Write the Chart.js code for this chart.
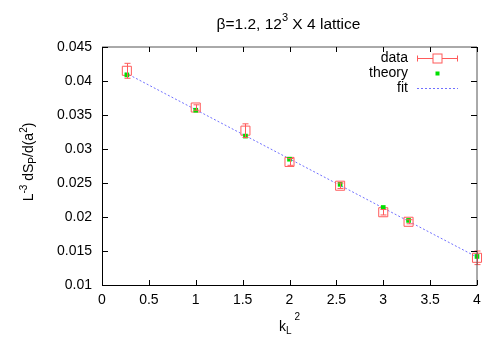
<!DOCTYPE html>
<html>
<head>
<meta charset="utf-8">
<script src="https://cdn.jsdelivr.net/npm/chart.js@4.4.0/dist/chart.umd.min.js"></script>
<style>
  html, body { margin: 0; padding: 0; background: #fff; }
  canvas { display: block; }
</style>
</head>
<body>
<canvas id="c" width="500" height="350"></canvas>
<script>
// ---- data ----
const kL2        = [0.265, 1.0, 1.53, 2.0, 2.54, 3.0, 3.27, 4.0];
const dataVals   = [0.0415, 0.0361, 0.0327, 0.0281, 0.0246, 0.0207, 0.0193, 0.0140];
const dataErr    = [0.0011, 0.0004, 0.0010, 0.0005, 0.0004, 0.0004, 0.0003, 0.0010];
const theoryVals = [0.0409, 0.0357, 0.0319, 0.0285, 0.0248, 0.0214, 0.0195, 0.0142];
const fitX       = [0.25, 4.0];
const fitY       = [0.0412, 0.0141];
const xTicks     = [0, 0.5, 1, 1.5, 2, 2.5, 3, 3.5, 4];
const xTickLabels= ["0", "0.5", "1", "1.5", "2", "2.5", "3", "3.5", "4"];
const yTicks     = [0.01, 0.015, 0.02, 0.025, 0.03, 0.035, 0.04, 0.045];
const yTickLabels= ["0.01", "0.015", "0.02", "0.025", "0.03", "0.035", "0.04", "0.045"];

const FONT = '"Liberation Sans", Arial, Helvetica, sans-serif';
const RED = '#ff5a5a';
const GREEN = '#00e000';
const BLUE = '#7070ff';

const toPts = (xs, ys) => xs.map((x, i) => ({x: x, y: ys[i]}));

const gnuplotDecor = {
  id: 'gnuplotDecor',
  afterDatasetsDraw(chart) {
    const ctx = chart.ctx;
    const xs = chart.scales.x, ys = chart.scales.y;
    ctx.save();
    // error bars
    ctx.strokeStyle = RED;
    ctx.lineWidth = 1;
    dataVals.forEach((v, i) => {
      const px = Math.round(xs.getPixelForValue(kL2[i])) + 0.5;
      const top = ys.getPixelForValue(v + dataErr[i]);
      const bot = ys.getPixelForValue(v - dataErr[i]);
      ctx.beginPath();
      ctx.moveTo(px, top); ctx.lineTo(px, bot);
      ctx.moveTo(px - 3, top); ctx.lineTo(px + 3, top);
      ctx.moveTo(px - 3, bot); ctx.lineTo(px + 3, bot);
      ctx.stroke();
    });
    ctx.restore();
  },
  afterDraw(chart) {
    const ctx = chart.ctx;
    const xs = chart.scales.x, ys = chart.scales.y;
    const a = chart.chartArea;
    const L = Math.round(a.left), R = Math.round(a.right), T = Math.round(a.top), B = Math.round(a.bottom);
    ctx.save();
    // border
    ctx.lineWidth = 1;
    ctx.strokeStyle = '#000';
    ctx.beginPath();
    ctx.moveTo(L + 0.5, T); ctx.lineTo(L + 0.5, B + 0.5); ctx.lineTo(R, B + 0.5);
    ctx.stroke();
    ctx.strokeStyle = '#555';
    ctx.beginPath();
    ctx.moveTo(L, T); ctx.lineTo(R, T); ctx.lineTo(R, B + 1);
    ctx.stroke();
    // inward ticks
    ctx.strokeStyle = '#000';
    ctx.beginPath();
    xTicks.forEach(v => {
      const p = Math.round(xs.getPixelForValue(v)) + 0.5;
      ctx.moveTo(p, B); ctx.lineTo(p, B - 5);
      ctx.moveTo(p, T); ctx.lineTo(p, T + 5);
    });
    yTicks.forEach(v => {
      const p = Math.round(ys.getPixelForValue(v)) + 0.5;
      ctx.moveTo(L, p); ctx.lineTo(L + 6, p);
      ctx.moveTo(R, p); ctx.lineTo(R - 6, p);
    });
    ctx.stroke();

    ctx.fillStyle = '#000';
    // title
    const cx = (a.left + a.right) / 2;
    drawParts(ctx, [
      {t: 'β=1.2, 12', s: 15.5, dy: 0},
      {t: '3', s: 11, dy: -8},
      {t: ' X 4 lattice', s: 15.5, dy: 0}
    ], cx - 1, 29);
    // x title
    drawParts(ctx, [
      {t: 'k', s: 14, dy: 0},
      {t: 'L', s: 10, dy: 3},
      {t: ' 2', s: 10, dy: -11}
    ], cx, 331);
    // y title (rotated)
    ctx.save();
    ctx.translate(33, 162);
    ctx.rotate(-Math.PI / 2);
    drawParts(ctx, [
      {t: 'L', s: 14, dy: 0},
      {t: '-3', s: 10, dy: -6},
      {t: ' dS', s: 14, dy: 0},
      {t: 'P', s: 10, dy: 3},
      {t: '/d(a', s: 14, dy: 0},
      {t: '2', s: 10, dy: -6},
      {t: ')', s: 14, dy: 0}
    ], 0, 0);
    ctx.restore();

    // legend
    ctx.font = '14px ' + FONT;
    ctx.textAlign = 'right';
    ctx.textBaseline = 'middle';
    const lx = 408, sx1 = 417, sx2 = 458, sc = 437.5;
    const rows = [58.5, 73.5, 88.5];
    ctx.fillText('data', lx, rows[0]);
    ctx.fillText('theory', lx, rows[1]);
    ctx.fillText('fit', lx, rows[2]);
    ctx.strokeStyle = RED;
    ctx.beginPath();
    ctx.moveTo(sx1, rows[0]); ctx.lineTo(sx2, rows[0]);
    ctx.moveTo(sx1 + 0.5, rows[0] - 3); ctx.lineTo(sx1 + 0.5, rows[0] + 3);
    ctx.moveTo(sx2 - 0.5, rows[0] - 3); ctx.lineTo(sx2 - 0.5, rows[0] + 3);
    ctx.stroke();
    ctx.fillStyle = '#fff';
    ctx.fillRect(sc - 4.5, rows[0] - 4.5, 9, 9);
    ctx.strokeRect(sc - 4.5, rows[0] - 4.5, 9, 9);
    ctx.fillStyle = GREEN;
    ctx.fillRect(sc - 2, rows[1] - 2, 4, 4);
    ctx.strokeStyle = BLUE;
    ctx.setLineDash([2, 2]);
    ctx.beginPath();
    ctx.moveTo(sx1, rows[2]); ctx.lineTo(sx2, rows[2]);
    ctx.stroke();
    ctx.setLineDash([]);
    ctx.restore();
  }
};

function drawParts(ctx, parts, cx, baseline) {
  let w = 0;
  parts.forEach(p => {
    ctx.font = p.s + 'px ' + FONT;
    p.w = ctx.measureText(p.t).width;
    w += p.w;
  });
  let x = cx - w / 2;
  ctx.textAlign = 'left';
  ctx.textBaseline = 'alphabetic';
  parts.forEach(p => {
    ctx.font = p.s + 'px ' + FONT;
    ctx.fillText(p.t, x, baseline + p.dy);
    x += p.w;
  });
}

new Chart(document.getElementById('c'), {
  type: 'scatter',
  data: {
    datasets: [
      {
        label: 'fit',
        data: toPts(fitX, fitY),
        showLine: true,
        borderColor: BLUE,
        borderWidth: 1,
        borderDash: [2, 2],
        pointRadius: 0,
        fill: false,
        clip: false,
        order: 3
      },
      {
        label: 'data',
        data: toPts(kL2, dataVals),
        pointStyle: 'rect',
        pointRadius: 6.4,
        borderColor: RED,
        backgroundColor: 'rgba(0,0,0,0)',
        borderWidth: 1,
        clip: false,
        order: 2
      },
      {
        label: 'theory',
        data: toPts(kL2, theoryVals),
        pointStyle: 'rect',
        pointRadius: 3.3,
        borderColor: GREEN,
        backgroundColor: GREEN,
        borderWidth: 0,
        clip: false,
        order: 1
      }
    ]
  },
  options: {
    responsive: false,
    animation: false,
    events: [],
    layout: { padding: { left: 0, right: 23, top: 47, bottom: 0 } },
    plugins: { legend: { display: false }, tooltip: { enabled: false }, title: { display: false } },
    scales: {
      x: {
        type: 'linear', min: 0, max: 4,
        afterBuildTicks: s => { s.ticks = xTicks.map(v => ({value: v})); },
        afterFit: s => { s.height = 65; },
        grid: { display: false, drawTicks: false },
        border: { display: false },
        ticks: {
          padding: 7,
          color: '#000',
          font: { family: FONT, size: 14 },
          maxRotation: 0,
          callback: (v) => { const i = xTicks.indexOf(v); return i >= 0 ? xTickLabels[i] : ''; }
        }
      },
      y: {
        type: 'linear', min: 0.01, max: 0.045,
        afterBuildTicks: s => { s.ticks = yTicks.map(v => ({value: v})); },
        afterFit: s => { s.width = 102; },
        grid: { display: false, drawTicks: false },
        border: { display: false },
        ticks: {
          padding: 10,
          color: '#000',
          font: { family: FONT, size: 14 },
          callback: (v) => { const i = yTicks.findIndex(t => Math.abs(t - v) < 1e-9); return i >= 0 ? yTickLabels[i] : ''; }
        }
      }
    }
  },
  plugins: [gnuplotDecor]
});
</script>
</body>
</html>
